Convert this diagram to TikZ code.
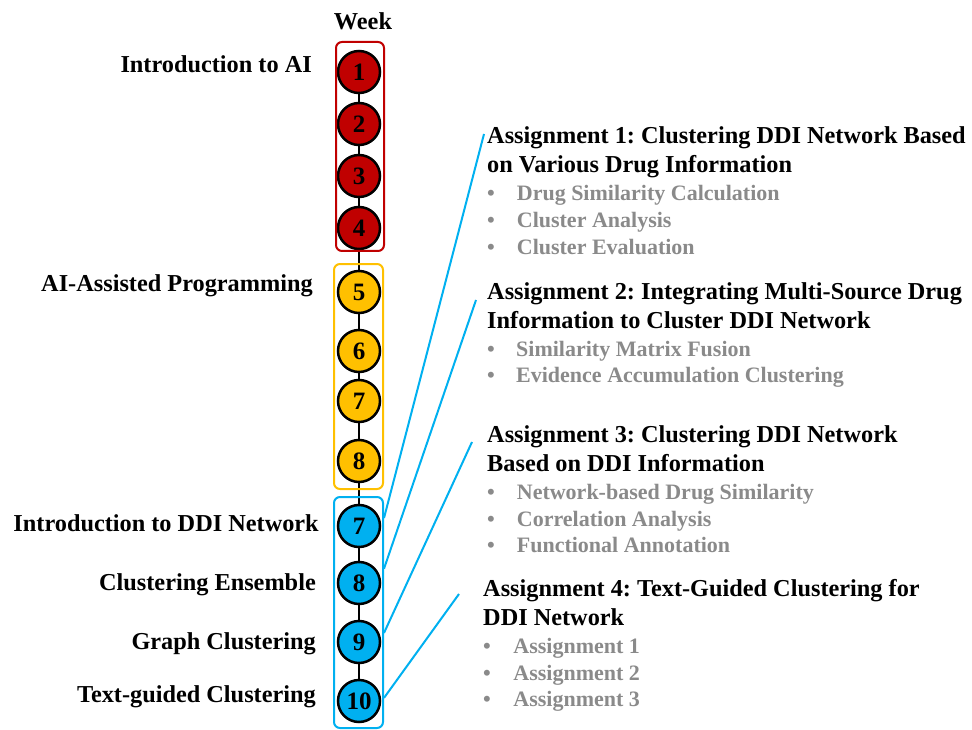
\documentclass[tikz,border=0pt]{standalone}
\usepackage{fontspec}
\setmainfont{Liberation Serif}
\usepackage{tikz}
\usetikzlibrary{positioning}

\definecolor{aired}{HTML}{C00000}
\definecolor{aiyellow}{HTML}{FFC000}
\definecolor{ddiblue}{HTML}{00B0F0}
\definecolor{itemgray}{HTML}{8A8A8A}

\frenchspacing

\begin{document}
\begin{tikzpicture}[x=1pt, y=-1pt,
				   every node/.style={inner sep=0pt, font=\bfseries\fontsize{24.3}{29}\selectfont},
				   week/.style={circle, draw=black, line width=2.5pt, minimum size=42pt, fill=#1,
				                font=\bfseries\fontsize{25}{29}\selectfont},
				   wbox/.style={draw=#1, line width=2pt, rounded corners=6pt},
				   topic/.style={anchor=base east},
				   task/.style={anchor=base west, align=left},
				   item/.style={anchor=base west, text=itemgray, font=\bfseries\fontsize{22}{26.7}\selectfont},
				   link/.style={draw=ddiblue, line width=2pt}]
\useasboundingbox (0,0) rectangle (972,730);

\node[anchor=base] (week) at (363,30) {Week};

% weeks 1-4
\node[week=aired] (w1) at (359,72) {1};
\node[week=aired] (w2) at (359,124) {2};
\node[week=aired] (w3) at (359,176) {3};
\node[week=aired] (w4) at (359,228) {4};
% weeks 5-8
\node[week=aiyellow] (w5) at (359,292) {5};
\node[week=aiyellow] (w6) at (359,351) {6};
\node[week=aiyellow] (w7) at (359,401) {7};
\node[week=aiyellow] (w8) at (359,461) {8};
% DDI part
\node[week=ddiblue] (d7) at (359,526) {7};
\node[week=ddiblue] (d8) at (359,583) {8};
\node[week=ddiblue] (d9) at (359,642) {9};
\node[week=ddiblue] (d10) at (359,701) {10};

\foreach \a/\b in {w1/w2, w2/w3, w3/w4, w4/w5, w5/w6, w6/w7, w7/w8, w8/d7, d7/d8, d8/d9, d9/d10}
	\draw[line width=2pt] (\a) -- (\b);

\node[wbox=aired, minimum width=48pt, minimum height=209pt] (red) at (360,146.5) {};
\node[wbox=aiyellow, minimum width=49pt, minimum height=225pt] (yel) at (358.5,376.5) {};
\node[wbox=ddiblue, minimum width=49pt, minimum height=231pt] (blu) at (358.5,612.5) {};

% topics
\node[topic] (t1) at (312,72.3) {Introduction to AI};
\node[topic] (t2) at (313,291.7) {AI-Assisted Programming};
\node[topic] (t3) at (319,531.7) {Introduction to DDI Network};
\node[topic] (t4) at (316,590.7) {Clustering Ensemble};
\node[topic] (t5) at (316,649.3) {Graph Clustering};
\node[topic] (t6) at (316,702.7) {Text-guided Clustering};

% assignments (base = last line)
\node[task] (a1) at (487,173) {Assignment 1: Clustering DDI Network Based\\on Various Drug Information};
\foreach \txt [count=\i from 0] in {Drug Similarity Calculation, Cluster Analysis, Cluster Evaluation}
	\node[item] (a1-\i) at (487,201+26.7*\i) {\makebox[29.7pt][l]{\textbullet}\txt};

\node[task] (a2) at (487,328) {Assignment 2: Integrating Multi-Source Drug\\Information to Cluster DDI Network};
\foreach \txt [count=\i from 0] in {Similarity Matrix Fusion, Evidence Accumulation Clustering}
	\node[item] (a2-\i) at (487,356+26.7*\i) {\makebox[29pt][l]{\textbullet}\txt};

\node[task] (a3) at (487,471.7) {Assignment 3: Clustering DDI Network\\Based on DDI Information};
\foreach \txt [count=\i from 0] in {Network-based Drug Similarity, Correlation Analysis, Functional Annotation}
	\node[item] (a3-\i) at (487,499.3+26.7*\i) {\makebox[29.7pt][l]{\textbullet}\txt};

\node[task] (a4) at (483,625) {Assignment 4: Text-Guided Clustering for\\DDI Network};
\foreach \txt [count=\i from 0] in {Assignment 1, Assignment 2, Assignment 3}
	\node[item] (a4-\i) at (483,653.3+26.7*\i) {\makebox[30.3pt][l]{\textbullet}\txt};

% links
\coordinate (e1) at (484,134);
\coordinate (e2) at (476,300);
\coordinate (e3) at (472,442);
\coordinate (e4) at (459,594);
\draw[link] (blu.east |- d7.21) -- (e1);
\draw[link] (blu.east |- d8.40) -- (e2);
\draw[link] (blu.east |- d9.24) -- (e3);
\draw[link] (blu.east |- d10.8) -- (e4);
\end{tikzpicture}
\end{document}
